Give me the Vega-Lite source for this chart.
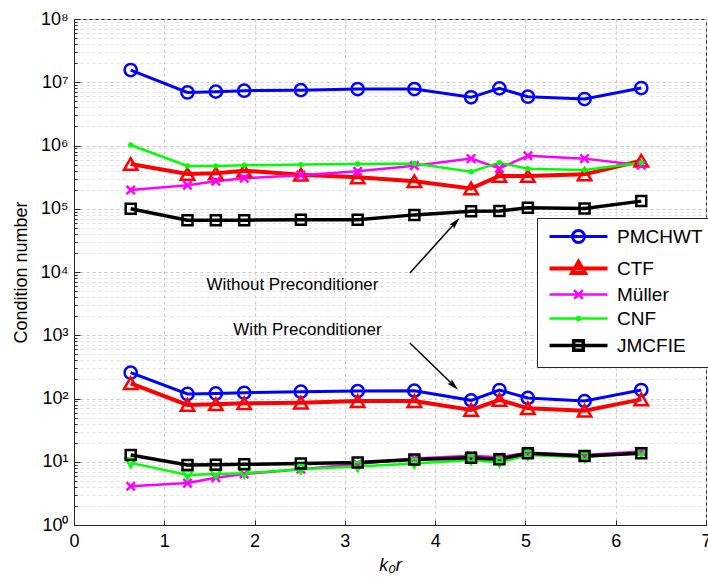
{
  "$schema": "https://vega.github.io/schema/vega-lite/v6.json",
  "width": 632,
  "height": 506,
  "autosize": "none",
  "padding": {"left": 74, "top": 19, "right": 2, "bottom": 55},
  "background": "white",
  "config": {
    "font": "Liberation Sans",
    "view": {"stroke": "#262626", "strokeWidth": 1},
    "axis": {
      "domainColor": "#262626",
      "tickColor": "#262626",
      "labelColor": "black",
      "titleColor": "black",
      "labelFont": "Liberation Sans",
      "titleFont": "Liberation Sans",
      "labelFontSize": 18,
      "titleFontSize": 18,
      "titleFontWeight": "normal",
      "grid": true,
      "gridDash": [3, 3],
      "labelFlush": false,
      "labelOverlap": false
    },
    "legend": {
      "orient": "none", "legendX": 463, "legendY": 199,
      "padding": 9, "strokeColor": "#262626", "fillColor": "white",
      "labelFontSize": 19, "labelColor": "black", "labelFont": "Liberation Sans", "symbolSize": 144,
      "symbolStrokeWidth": 3, "symbolOpacity": 1, "labelOffset": 52, "rowPadding": 4
    }
  },
  "datasets": {
    "curves": [
      {"series": "PMCHWT", "cond": "without", "x": 0.628, "y": 15600000},
      {"series": "PMCHWT", "cond": "without", "x": 1.257, "y": 6900000},
      {"series": "PMCHWT", "cond": "without", "x": 1.571, "y": 7100000},
      {"series": "PMCHWT", "cond": "without", "x": 1.885, "y": 7350000},
      {"series": "PMCHWT", "cond": "without", "x": 2.513, "y": 7500000},
      {"series": "PMCHWT", "cond": "without", "x": 3.142, "y": 7800000},
      {"series": "PMCHWT", "cond": "without", "x": 3.770, "y": 7800000},
      {"series": "PMCHWT", "cond": "without", "x": 4.398, "y": 5780000},
      {"series": "PMCHWT", "cond": "without", "x": 4.712, "y": 8000000},
      {"series": "PMCHWT", "cond": "without", "x": 5.027, "y": 5900000},
      {"series": "PMCHWT", "cond": "without", "x": 5.655, "y": 5430000},
      {"series": "PMCHWT", "cond": "without", "x": 6.283, "y": 8100000},
      {"series": "CTF", "cond": "without", "x": 0.628, "y": 510000},
      {"series": "CTF", "cond": "without", "x": 1.257, "y": 355000},
      {"series": "CTF", "cond": "without", "x": 1.571, "y": 363000},
      {"series": "CTF", "cond": "without", "x": 1.885, "y": 400000},
      {"series": "CTF", "cond": "without", "x": 2.513, "y": 346000},
      {"series": "CTF", "cond": "without", "x": 3.142, "y": 314000},
      {"series": "CTF", "cond": "without", "x": 3.770, "y": 272000},
      {"series": "CTF", "cond": "without", "x": 4.398, "y": 210000},
      {"series": "CTF", "cond": "without", "x": 4.712, "y": 330000},
      {"series": "CTF", "cond": "without", "x": 5.027, "y": 330000},
      {"series": "CTF", "cond": "without", "x": 5.655, "y": 350000},
      {"series": "CTF", "cond": "without", "x": 6.283, "y": 575000},
      {"series": "Müller", "cond": "without", "x": 0.628, "y": 198000},
      {"series": "Müller", "cond": "without", "x": 1.257, "y": 235000},
      {"series": "Müller", "cond": "without", "x": 1.571, "y": 272000},
      {"series": "Müller", "cond": "without", "x": 1.885, "y": 303000},
      {"series": "Müller", "cond": "without", "x": 2.513, "y": 340000},
      {"series": "Müller", "cond": "without", "x": 3.142, "y": 390000},
      {"series": "Müller", "cond": "without", "x": 3.770, "y": 480000},
      {"series": "Müller", "cond": "without", "x": 4.398, "y": 620000},
      {"series": "Müller", "cond": "without", "x": 4.712, "y": 435000},
      {"series": "Müller", "cond": "without", "x": 5.027, "y": 690000},
      {"series": "Müller", "cond": "without", "x": 5.655, "y": 620000},
      {"series": "Müller", "cond": "without", "x": 6.283, "y": 487000},
      {"series": "CNF", "cond": "without", "x": 0.628, "y": 1020000},
      {"series": "CNF", "cond": "without", "x": 1.257, "y": 474000},
      {"series": "CNF", "cond": "without", "x": 1.571, "y": 474000},
      {"series": "CNF", "cond": "without", "x": 1.885, "y": 487000},
      {"series": "CNF", "cond": "without", "x": 2.513, "y": 500000},
      {"series": "CNF", "cond": "without", "x": 3.142, "y": 510000},
      {"series": "CNF", "cond": "without", "x": 3.770, "y": 520000},
      {"series": "CNF", "cond": "without", "x": 4.398, "y": 385000},
      {"series": "CNF", "cond": "without", "x": 4.712, "y": 535000},
      {"series": "CNF", "cond": "without", "x": 5.027, "y": 430000},
      {"series": "CNF", "cond": "without", "x": 5.655, "y": 410000},
      {"series": "CNF", "cond": "without", "x": 6.283, "y": 535000},
      {"series": "JMCFIE", "cond": "without", "x": 0.628, "y": 100000},
      {"series": "JMCFIE", "cond": "without", "x": 1.257, "y": 66000},
      {"series": "JMCFIE", "cond": "without", "x": 1.571, "y": 66000},
      {"series": "JMCFIE", "cond": "without", "x": 1.885, "y": 66000},
      {"series": "JMCFIE", "cond": "without", "x": 2.513, "y": 67000},
      {"series": "JMCFIE", "cond": "without", "x": 3.142, "y": 67000},
      {"series": "JMCFIE", "cond": "without", "x": 3.770, "y": 80000},
      {"series": "JMCFIE", "cond": "without", "x": 4.398, "y": 91000},
      {"series": "JMCFIE", "cond": "without", "x": 4.712, "y": 92000},
      {"series": "JMCFIE", "cond": "without", "x": 5.027, "y": 104000},
      {"series": "JMCFIE", "cond": "without", "x": 5.655, "y": 101000},
      {"series": "JMCFIE", "cond": "without", "x": 6.283, "y": 132000},
      {"series": "PMCHWT", "cond": "with", "x": 0.628, "y": 256},
      {"series": "PMCHWT", "cond": "with", "x": 1.257, "y": 118},
      {"series": "PMCHWT", "cond": "with", "x": 1.571, "y": 120},
      {"series": "PMCHWT", "cond": "with", "x": 1.885, "y": 123},
      {"series": "PMCHWT", "cond": "with", "x": 2.513, "y": 128},
      {"series": "PMCHWT", "cond": "with", "x": 3.142, "y": 131},
      {"series": "PMCHWT", "cond": "with", "x": 3.770, "y": 133},
      {"series": "PMCHWT", "cond": "with", "x": 4.398, "y": 93.5},
      {"series": "PMCHWT", "cond": "with", "x": 4.712, "y": 136},
      {"series": "PMCHWT", "cond": "with", "x": 5.027, "y": 102},
      {"series": "PMCHWT", "cond": "with", "x": 5.655, "y": 91},
      {"series": "PMCHWT", "cond": "with", "x": 6.283, "y": 136},
      {"series": "CTF", "cond": "with", "x": 0.628, "y": 174},
      {"series": "CTF", "cond": "with", "x": 1.257, "y": 79},
      {"series": "CTF", "cond": "with", "x": 1.571, "y": 81},
      {"series": "CTF", "cond": "with", "x": 1.885, "y": 84},
      {"series": "CTF", "cond": "with", "x": 2.513, "y": 86},
      {"series": "CTF", "cond": "with", "x": 3.142, "y": 91},
      {"series": "CTF", "cond": "with", "x": 3.770, "y": 91},
      {"series": "CTF", "cond": "with", "x": 4.398, "y": 66},
      {"series": "CTF", "cond": "with", "x": 4.712, "y": 95},
      {"series": "CTF", "cond": "with", "x": 5.027, "y": 70},
      {"series": "CTF", "cond": "with", "x": 5.655, "y": 64},
      {"series": "CTF", "cond": "with", "x": 6.283, "y": 97},
      {"series": "Müller", "cond": "with", "x": 0.628, "y": 4.1},
      {"series": "Müller", "cond": "with", "x": 1.257, "y": 4.6},
      {"series": "Müller", "cond": "with", "x": 1.571, "y": 5.6},
      {"series": "Müller", "cond": "with", "x": 1.885, "y": 6.4},
      {"series": "Müller", "cond": "with", "x": 2.513, "y": 7.6},
      {"series": "Müller", "cond": "with", "x": 3.142, "y": 9.2},
      {"series": "Müller", "cond": "with", "x": 3.770, "y": 11.3},
      {"series": "Müller", "cond": "with", "x": 4.398, "y": 12.4},
      {"series": "Müller", "cond": "with", "x": 4.712, "y": 11.8},
      {"series": "Müller", "cond": "with", "x": 5.027, "y": 13.9},
      {"series": "Müller", "cond": "with", "x": 5.655, "y": 12.8},
      {"series": "Müller", "cond": "with", "x": 6.283, "y": 14.5},
      {"series": "CNF", "cond": "with", "x": 0.628, "y": 9.6},
      {"series": "CNF", "cond": "with", "x": 1.257, "y": 6.2},
      {"series": "CNF", "cond": "with", "x": 1.571, "y": 6.4},
      {"series": "CNF", "cond": "with", "x": 1.885, "y": 6.6},
      {"series": "CNF", "cond": "with", "x": 2.513, "y": 7.6},
      {"series": "CNF", "cond": "with", "x": 3.142, "y": 8.4},
      {"series": "CNF", "cond": "with", "x": 3.770, "y": 9.4},
      {"series": "CNF", "cond": "with", "x": 4.398, "y": 10.7},
      {"series": "CNF", "cond": "with", "x": 4.712, "y": 9.8},
      {"series": "CNF", "cond": "with", "x": 5.027, "y": 12.8},
      {"series": "CNF", "cond": "with", "x": 5.655, "y": 11.8},
      {"series": "CNF", "cond": "with", "x": 6.283, "y": 14.0},
      {"series": "JMCFIE", "cond": "with", "x": 0.628, "y": 12.8},
      {"series": "JMCFIE", "cond": "with", "x": 1.257, "y": 8.9},
      {"series": "JMCFIE", "cond": "with", "x": 1.571, "y": 9.0},
      {"series": "JMCFIE", "cond": "with", "x": 1.885, "y": 9.1},
      {"series": "JMCFIE", "cond": "with", "x": 2.513, "y": 9.4},
      {"series": "JMCFIE", "cond": "with", "x": 3.142, "y": 9.7},
      {"series": "JMCFIE", "cond": "with", "x": 3.770, "y": 10.9},
      {"series": "JMCFIE", "cond": "with", "x": 4.398, "y": 11.6},
      {"series": "JMCFIE", "cond": "with", "x": 4.712, "y": 11.0},
      {"series": "JMCFIE", "cond": "with", "x": 5.027, "y": 13.6},
      {"series": "JMCFIE", "cond": "with", "x": 5.655, "y": 12.3},
      {"series": "JMCFIE", "cond": "with", "x": 6.283, "y": 13.6}
    ],
    "notes": [
      {"label": "Without Preconditioner", "x": 2.42, "y": 6200},
      {"label": "With Preconditioner", "x": 2.586, "y": 1210}
    ],
    "arrows": [
      {"which": "up", "x": 3.72, "y": 9600, "x2": 4.22, "y2": 59600},
      {"which": "down", "x": 3.72, "y": 754, "x2": 4.2, "y2": 163}
    ]
  },
  "layer": [
    {
      "data": {"name": "curves"},
      "mark": {"type": "line", "clip": true},
      "encoding": {
        "x": {
          "field": "x", "type": "quantitative",
          "scale": {"domain": [0, 7], "nice": false, "zero": false},
          "axis": {
            "values": [0, 1, 2, 3, 4, 5, 6, 7],
            "format": "d",
            "title": "k₀r",
            "titleFontStyle": "italic",
            "titlePadding": 6,
            "tickSize": -5,
            "labelPadding": 12,
            "gridColor": "#c8c8c8"
          }
        },
        "y": {
          "field": "y", "type": "quantitative",
          "scale": {"type": "log", "domain": [1, 100000000], "nice": false},
          "axis": {
            "values": [1,2,3,4,5,6,7,8,9,10,20,30,40,50,60,70,80,90,100,200,300,400,500,600,700,800,900,1000,2000,3000,4000,5000,6000,7000,8000,9000,10000,20000,30000,40000,50000,60000,70000,80000,90000,100000,200000,300000,400000,500000,600000,700000,800000,900000,1000000,2000000,3000000,4000000,5000000,6000000,7000000,8000000,9000000,10000000,20000000,30000000,40000000,50000000,60000000,70000000,80000000,90000000,100000000],
            "labelExpr": "abs(log(datum.value)/LN10 - round(log(datum.value)/LN10)) < 0.000001 ? '10' + ['⁰','¹','²','³','⁴','⁵','⁶','⁷','⁸'][round(log(datum.value)/LN10)] : ''",
            "title": "Condition number",
            "titlePadding": 10,
            "tickSize": {"condition": {"test": "abs(log(datum.value)/LN10 - round(log(datum.value)/LN10)) < 0.000001", "value": -6}, "value": -3},
            "labelPadding": 12,
            "gridColor": {"condition": {"test": "abs(log(datum.value)/LN10 - round(log(datum.value)/LN10)) < 0.000001", "value": "#c8c8c8"}, "value": "#e0e0e0"}
          }
        },
        "color": {
          "field": "series", "type": "nominal",
          "scale": {"domain": ["PMCHWT", "CTF", "Müller", "CNF", "JMCFIE"], "range": ["#0000ff", "#ff0000", "#ff00ff", "#00ff00", "#000000"]},
          "legend": {"title": null}
        },
        "strokeWidth": {
          "field": "series", "type": "nominal",
          "scale": {"type": "ordinal", "domain": ["PMCHWT", "CTF", "Müller", "CNF", "JMCFIE"], "range": [3, 4, 2.5, 2.5, 3.5]},
          "legend": null
        },
        "detail": {"field": "cond"}
      }
    },
    {
      "data": {"name": "curves"},
      "mark": {"type": "point", "filled": false, "strokeWidth": 3, "opacity": 0},
      "encoding": {
        "x": {"field": "x", "type": "quantitative"},
        "y": {"field": "y", "type": "quantitative"},
        "color": {"field": "series", "type": "nominal", "legend": {"title": null}},
        "shape": {
          "field": "series", "type": "nominal",
          "scale": {"domain": ["PMCHWT", "CTF", "Müller", "CNF", "JMCFIE"], "range": [
            "M-1,0L8.667,0M4.833,0A1,1,0,1,1,2.833,0A1,1,0,1,1,4.833,0",
            "M-1,0L8.667,0M3.833,-1.1L4.9,0.75L2.767,0.75Z",
            "M-1,0L8.667,0M3.1,-0.73L4.567,0.73M3.1,0.73L4.567,-0.73",
            "M-1,0L8.667,0M4.1,0A0.267,0.267,0,1,1,3.567,0A0.267,0.267,0,1,1,4.1,0",
            "M-1,0L8.667,0M3.033,-0.8L4.633,-0.8L4.633,0.8L3.033,0.8Z"
          ]},
          "legend": {"title": null}
        }
      }
    },
    {
      "data": {"name": "curves"},
      "transform": [{"filter": "datum.series === 'PMCHWT'"}],
      "mark": {"type": "point", "shape": "circle", "filled": false, "strokeWidth": 2.5, "size": 150, "color": "#0000ff", "opacity": 1},
      "encoding": {"x": {"field": "x", "type": "quantitative"}, "y": {"field": "y", "type": "quantitative"}}
    },
    {
      "data": {"name": "curves"},
      "transform": [{"filter": "datum.series === 'CTF'"}],
      "mark": {"type": "point", "shape": "triangle-up", "filled": false, "strokeWidth": 2.5, "size": 180, "color": "#ff0000", "opacity": 1},
      "encoding": {"x": {"field": "x", "type": "quantitative"}, "y": {"field": "y", "type": "quantitative"}}
    },
    {
      "data": {"name": "curves"},
      "transform": [{"filter": "datum.series === 'Müller'"}],
      "mark": {"type": "point", "shape": "M-1,-1L1,1M-1,1L1,-1", "filled": false, "strokeWidth": 2.5, "size": 70, "color": "#ff00ff", "opacity": 1},
      "encoding": {"x": {"field": "x", "type": "quantitative"}, "y": {"field": "y", "type": "quantitative"}}
    },
    {
      "data": {"name": "curves"},
      "transform": [{"filter": "datum.series === 'CNF' && datum.cond === 'without'"}],
      "mark": {"type": "point", "shape": "circle", "filled": false, "strokeWidth": 2.5, "size": 8, "color": "#00ff00", "opacity": 1},
      "encoding": {"x": {"field": "x", "type": "quantitative"}, "y": {"field": "y", "type": "quantitative"}}
    },
    {
      "data": {"name": "curves"},
      "transform": [{"filter": "datum.series === 'CNF' && datum.cond === 'with'"}],
      "mark": {"type": "point", "shape": "triangle-down", "filled": false, "strokeWidth": 2.5, "size": 100, "color": "#00ff00", "opacity": 1},
      "encoding": {"x": {"field": "x", "type": "quantitative"}, "y": {"field": "y", "type": "quantitative"}}
    },
    {
      "data": {"name": "curves"},
      "transform": [{"filter": "datum.series === 'JMCFIE'"}],
      "mark": {"type": "point", "shape": "square", "filled": false, "strokeWidth": 2.5, "size": 100, "color": "#000000", "opacity": 1},
      "encoding": {"x": {"field": "x", "type": "quantitative"}, "y": {"field": "y", "type": "quantitative"}}
    },
    {
      "data": {"name": "notes"},
      "mark": {"type": "text", "fontSize": 17, "font": "Liberation Sans", "color": "black", "align": "center", "baseline": "middle"},
      "encoding": {
        "x": {"field": "x", "type": "quantitative"},
        "y": {"field": "y", "type": "quantitative"},
        "text": {"field": "label"}
      }
    },
    {
      "data": {"name": "arrows"},
      "mark": {"type": "rule", "color": "black", "strokeWidth": 1.5},
      "encoding": {
        "x": {"field": "x", "type": "quantitative"},
        "y": {"field": "y", "type": "quantitative"},
        "x2": {"field": "x2"},
        "y2": {"field": "y2"}
      }
    },
    {
      "data": {"name": "arrows"},
      "transform": [{"filter": "datum.which === 'up'"}],
      "mark": {"type": "point", "shape": "M0,-1.2L0.55,0.9L0,0.5L-0.55,0.9Z", "filled": true, "color": "black", "size": 130, "angle": 42, "opacity": 1},
      "encoding": {
        "x": {"field": "x2", "type": "quantitative"},
        "y": {"field": "y2", "type": "quantitative"}
      }
    },
    {
      "data": {"name": "arrows"},
      "transform": [{"filter": "datum.which === 'down'"}],
      "mark": {"type": "point", "shape": "M0,-1.2L0.55,0.9L0,0.5L-0.55,0.9Z", "filled": true, "color": "black", "size": 130, "angle": 134, "opacity": 1},
      "encoding": {
        "x": {"field": "x2", "type": "quantitative"},
        "y": {"field": "y2", "type": "quantitative"}
      }
    }
  ]
}
